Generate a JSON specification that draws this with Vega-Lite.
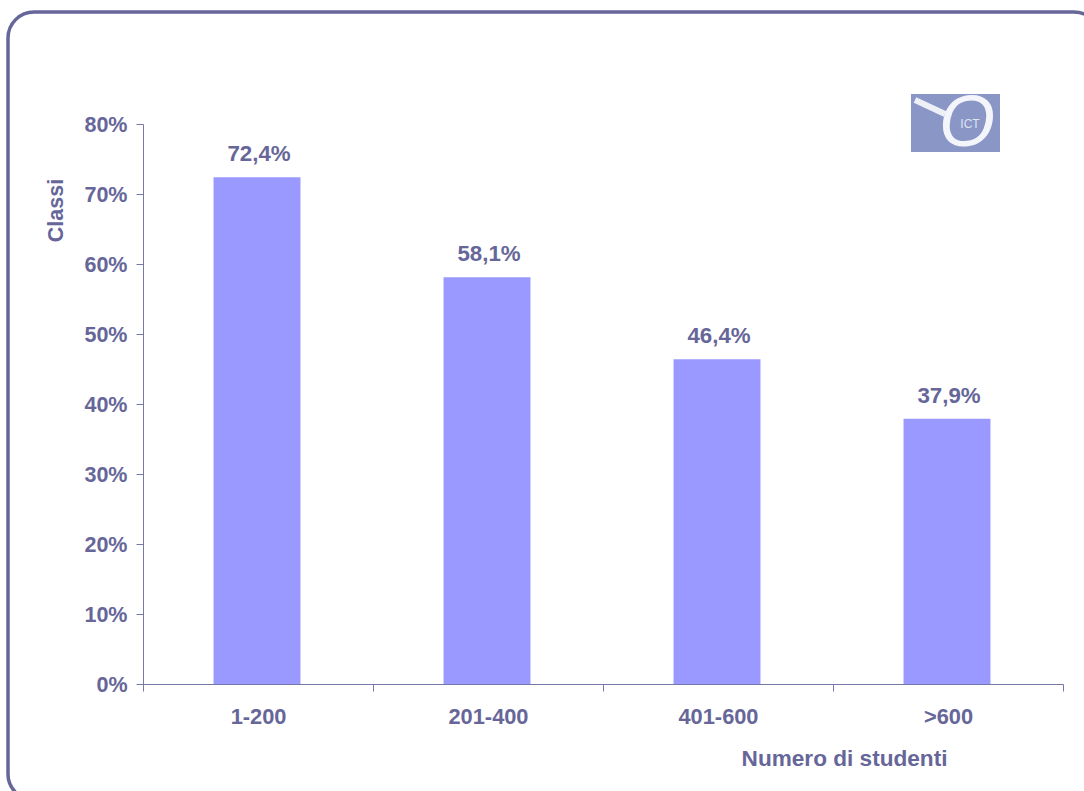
{
  "$schema": "https://vega.github.io/schema/vega-lite/v6.json",
  "width": 920,
  "height": 560,
  "autosize": {"type": "none"},
  "padding": {"left": 143, "top": 124, "right": 21, "bottom": 107},
  "background": "white",
  "config": {"view": {"stroke": null}, "font": "Liberation Sans"},
  "data": {"values": [
    {"classe": "1-200", "quota": 0.724, "etichetta": "72,4%"},
    {"classe": "201-400", "quota": 0.581, "etichetta": "58,1%"},
    {"classe": "401-600", "quota": 0.464, "etichetta": "46,4%"},
    {"classe": ">600", "quota": 0.379, "etichetta": "37,9%"}
  ]},
  "layer": [
    {
      "data": {"values": [{"parte": "cornice"}]},
      "mark": {"type": "rect", "x": -135, "x2": 957, "y": -112, "y2": 676, "cornerRadius": 26, "fill": "transparent", "stroke": "#666699", "strokeWidth": 3.5, "clip": false},
      "encoding": {}
    },
    {
      "mark": {"type": "bar", "width": {"band": 0.378}, "fill": "#9999ff", "xOffset": -1},
      "encoding": {
        "x": {
          "field": "classe", "type": "nominal", "sort": null,
          "scale": {"paddingInner": 0, "paddingOuter": 0},
          "axis": {
            "title": "Numero di studenti", "titleX": 701, "titleY": 74, "titleBaseline": "middle", "titleAlign": "center", "titleFontSize": 22.6, "titleFontWeight": "bold", "titleColor": "#666699",
            "labelAngle": 0, "labelFontSize": 21.8, "labelFontWeight": "bold", "labelColor": "#666699", "labelPadding": 15,
            "tickBand": "extent", "tickExtra": true, "tickSize": 7, "tickColor": "#7777a8", "domainColor": "#7777a8", "grid": false
          }
        },
        "y": {
          "field": "quota", "type": "quantitative",
          "scale": {"domain": [0, 0.8], "nice": false},
          "axis": {
            "title": "Classi", "titleX": -87, "titleY": 86, "titleBaseline": "middle", "titleAlign": "center", "titleFontSize": 21.5, "titleFontWeight": "bold", "titleColor": "#666699",
            "values": [0, 0.1, 0.2, 0.3, 0.4, 0.5, 0.6, 0.7, 0.8], "format": ".0%",
            "labelFontSize": 21.5, "labelFontWeight": "bold", "labelColor": "#666699", "labelPadding": 9, "labelOffset": 1, "labelBound": false,
            "tickSize": 7, "tickColor": "#7777a8", "domainColor": "#7777a8", "grid": false
          }
        }
      }
    },
    {
      "mark": {"type": "text", "baseline": "bottom", "dy": -11, "dx": 1, "fontSize": 22.3, "fontWeight": "bold", "color": "#666699"},
      "encoding": {
        "x": {"field": "classe", "type": "nominal", "sort": null},
        "y": {"field": "quota", "type": "quantitative"},
        "text": {"field": "etichetta"}
      }
    },
    {
      "data": {"values": [{"parte": "logo"}]},
      "mark": {"type": "rect", "x": 768, "x2": 857, "y": -30, "y2": 28, "fill": "#8a96c6"},
      "encoding": {}
    },
    {
      "data": {"values": [{"parte": "logo"}]},
      "mark": {"type": "rule", "stroke": "#eef0f8", "strokeWidth": 6},
      "encoding": {"x": {"value": 772}, "x2": {"value": 802}, "y": {"value": -24}, "y2": {"value": -10}}
    },
    {
      "data": {"values": [{"parte": "logo"}]},
      "mark": {"type": "text", "x": 824, "y": 0, "align": "center", "baseline": "middle", "fontSize": 72, "fontStyle": "italic", "fontWeight": "normal", "color": "#f4f5fb", "text": "O"},
      "encoding": {}
    },
    {
      "data": {"values": [{"parte": "logo"}]},
      "mark": {"type": "text", "x": 827, "y": 0, "align": "center", "baseline": "middle", "fontSize": 12, "color": "#dfe3f2", "text": "ICT"},
      "encoding": {}
    }
  ]
}
